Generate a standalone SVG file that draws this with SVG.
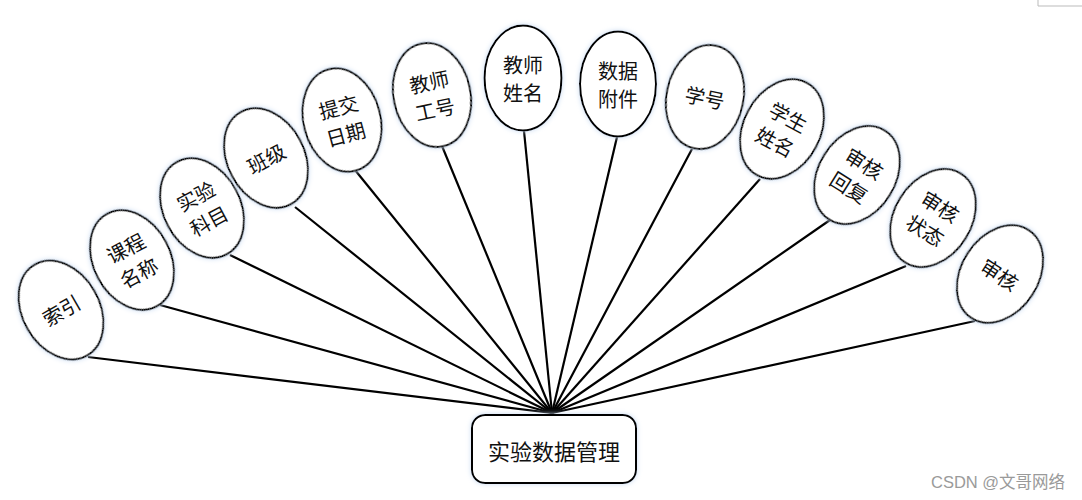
<svg xmlns="http://www.w3.org/2000/svg" width="1082" height="500" viewBox="0 0 1082 500">
<defs>
<filter id="glow" x="-20%" y="-20%" width="140%" height="140%">
<feGaussianBlur in="SourceAlpha" stdDeviation="2.5" result="b"/>
<feFlood flood-color="#c9dbf2" result="c"/>
<feComposite in="c" in2="b" operator="in" result="s"/>
<feMerge><feMergeNode in="s"/><feMergeNode in="SourceGraphic"/></feMerge>
</filter>
<style>
.e{fill:#fff;stroke:#000;stroke-width:2;filter:url(#glow)}
.t{font-family:"Noto Sans CJK SC","Liberation Serif",serif;font-size:20px;fill:#111;text-anchor:middle;dominant-baseline:central}
.c line{stroke:#000;stroke-width:2.2}
</style>
</defs>
<rect width="1082" height="500" fill="#fff"/>
<path d="M1038 0V6H1082" fill="none" stroke="#bbb" stroke-width="1"/>
<g class="c" id="connectors">
<line x1="88" y1="357" x2="552" y2="413"/>
<line x1="160" y1="305" x2="552" y2="413"/>
<line x1="230" y1="255" x2="552" y2="413"/>
<line x1="295" y1="207" x2="552" y2="413"/>
<line x1="355" y1="170" x2="552" y2="413"/>
<line x1="442" y1="146" x2="552" y2="413"/>
<line x1="524" y1="131" x2="552" y2="413"/>
<line x1="617" y1="137" x2="552" y2="413"/>
<line x1="692" y1="149" x2="552" y2="413"/>
<line x1="760" y1="179" x2="552" y2="413"/>
<line x1="830" y1="220" x2="552" y2="413"/>
<line x1="906" y1="266" x2="552" y2="413"/>
<line x1="975" y1="321" x2="552" y2="413"/>
</g>
<g id="n1" transform="translate(61,310) rotate(-30)"><ellipse class="e" rx="38.5" ry="52.5"/><text class="t">索引</text></g>
<g id="n2" transform="translate(132,260) rotate(-28)"><ellipse class="e" rx="38.5" ry="52.5"/><text class="t" y="-14">课程</text><text class="t" y="14">名称</text></g>
<g id="n3" transform="translate(202,208) rotate(-28)"><ellipse class="e" rx="38.5" ry="52.5"/><text class="t" y="-14">实验</text><text class="t" y="14">科目</text></g>
<g id="n4" transform="translate(266,158) rotate(-28)"><ellipse class="e" rx="38.5" ry="52.5"/><text class="t">班级</text></g>
<g id="n5" transform="translate(342,120) rotate(-15)"><ellipse class="e" rx="38.5" ry="52.5"/><text class="t" y="-14">提交</text><text class="t" y="14">日期</text></g>
<g id="n6" transform="translate(432,95) rotate(-12)"><ellipse class="e" rx="38.5" ry="52.5"/><text class="t" y="-14">教师</text><text class="t" y="14">工号</text></g>
<g id="n7" transform="translate(523,78)"><ellipse class="e" rx="38.5" ry="52.5"/><text class="t" y="-14">教师</text><text class="t" y="14">姓名</text></g>
<g id="n8" transform="translate(618,84)"><ellipse class="e" rx="38" ry="52.5"/><text class="t" y="-14">数据</text><text class="t" y="14">附件</text></g>
<g id="n9" transform="translate(705,97) rotate(12)"><ellipse class="e" rx="38.5" ry="52.5"/><text class="t">学号</text></g>
<g id="n10" transform="translate(782,129) rotate(28)"><ellipse class="e" rx="38.5" ry="52.5"/><text class="t" y="-14">学生</text><text class="t" y="14">姓名</text></g>
<g id="n11" transform="translate(857,175) rotate(32)"><ellipse class="e" rx="38.5" ry="52.5"/><text class="t" y="-14">审核</text><text class="t" y="14">回复</text></g>
<g id="n12" transform="translate(933,218) rotate(32)"><ellipse class="e" rx="38.5" ry="52.5"/><text class="t" y="-14">审核</text><text class="t" y="14">状态</text></g>
<g id="n13" transform="translate(1000,274) rotate(33)"><ellipse class="e" rx="38.5" ry="52.5"/><text class="t">审核</text></g>
<g id="hub"><rect class="e" x="472" y="415" width="164" height="68" rx="13"/><text class="t" x="554" y="450" style="font-size:22px">实验数据管理</text></g>
<text x="931" y="488" style="font-family:'Liberation Sans','Noto Sans CJK SC',sans-serif;font-size:16.5px;fill:#9a9a9a">CSDN @文哥网络</text>
</svg>
